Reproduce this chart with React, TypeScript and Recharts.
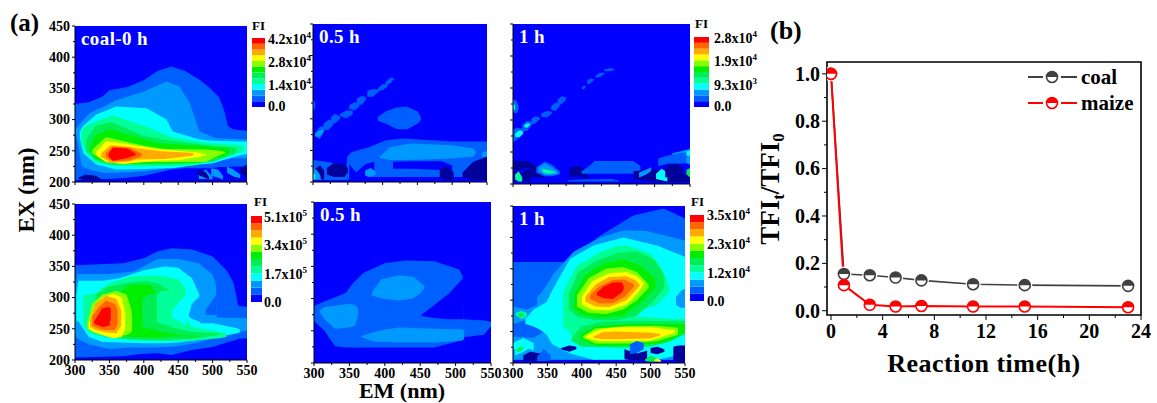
import React from 'react';
import { ComposedChart, BarChart, Bar, Area, Line, XAxis, YAxis, ReferenceArea } from 'recharts';

type Pt = [number, number, number];
type Contour = [number, Pt[]];

const D = 12;
const LEVEL_COLORS = ['#0000ff', '#0060ff', '#0099ff', '#00ffff', '#00ff99', '#00ee55', '#00ee00', '#88ff00', '#ffff00', '#ffaa00', '#ff6600', '#ff0000', '#00009a'];
const FULL: Contour = [0, [[300, 200, 450], [550, 200, 450]]];

const coal0: Contour[] = [
  FULL,
  [1, [[300, 203, 325], [320, 204, 328], [340, 205, 337], [350, 205, 347], [375, 207, 352], [400, 210, 363], [420, 215, 378], [440, 220, 385], [460, 222, 378], [481, 222, 364], [497, 222, 350], [510, 224, 335], [518, 224, 310], [522, 224, 290], [530, 225, 284], [550, 225, 282]]],
  [D, [[305, 205, 207], [315, 203, 212], [330, 203, 210], [338, 203, 205]]],
  [D, [[540, 215, 222], [550, 206, 228]]],
  [2, [[301, 280, 285], [310, 225, 297], [321, 220, 310], [340, 215, 320], [360, 215, 331], [400, 217, 345], [433, 222, 361], [452, 228, 353], [467, 232, 326], [481, 235, 281], [505, 238, 270], [550, 238, 268]]],
  [3, [[307, 270, 281], [312, 246, 290], [331, 228, 308], [360, 220, 321], [404, 221, 318], [433, 222, 300], [442, 222, 281], [481, 228, 268], [500, 230, 266], [540, 243, 265], [550, 245, 265]]],
  [4, [[309, 265, 281], [315, 248, 290], [330, 232, 297], [355, 226, 307], [400, 225, 290], [440, 226, 272], [470, 226, 266], [500, 234, 262], [530, 243, 260], [546, 250, 258]]],
  [5, [[316, 250, 268], [330, 235, 290], [352, 228, 296], [400, 228, 274], [440, 228, 266], [500, 232, 258], [527, 243, 256], [535, 248, 254]]],
  [6, [[322, 250, 257], [330, 237, 275], [350, 232, 285], [380, 229, 275], [420, 230, 262], [480, 231, 258], [520, 243, 254], [525, 248, 251]]],
  [7, [[325, 246, 252], [345, 232, 272], [360, 231, 268], [400, 232, 258], [430, 232, 253], [490, 232, 252], [510, 243, 250], [518, 246, 248]]],
  [8, [[331, 243, 248], [345, 232, 265], [370, 229, 262], [420, 234, 253], [450, 235, 250], [480, 240, 247], [491, 243, 244]]],
  [9, [[338, 240, 246], [352, 231, 259], [380, 233, 256], [390, 236, 254], [430, 237, 249], [470, 242, 247], [473, 244, 245]]],
  [10, [[345, 240, 247], [355, 233, 257], [380, 235, 255], [395, 240, 247], [397, 243, 245]]],
  [11, [[349, 240, 246], [355, 234, 255], [375, 238, 254], [388, 243, 246]]],
  [2, [[480, 205, 213], [490, 205, 220], [500, 204, 208]]],
  [D, [[478, 212, 220], [490, 206, 216], [495, 205, 208]]],
  [2, [[498, 210, 222], [508, 207, 220], [515, 204, 210]]],
  [D, [[525, 209, 222], [535, 206, 216], [540, 205, 208]]],
  [2, [[521, 215, 225], [530, 209, 220], [540, 206, 212]]],
];

const coalHalf: Contour[] = [
  FULL,
  [1, [[300, 312, 330], [303, 318, 326]]],
  [1, [[304, 272, 278], [310, 268, 288], [316, 280, 288]]],
  [2, [[303, 272, 277], [310, 272, 282], [315, 279, 283]]],
  [1, [[315, 283, 292], [322, 282, 298], [329, 290, 298]]],
  [1, [[326, 293, 303], [331, 292, 308], [339, 300, 304]]],
  [1, [[339, 304, 308], [348, 301, 313], [357, 307, 313]]],
  [1, [[352, 316, 322], [360, 313, 326], [367, 320, 324]]],
  [1, [[363, 325, 332], [370, 322, 336], [376, 330, 334]]],
  [1, [[378, 335, 344], [386, 335, 347], [395, 343, 346]]],
  [1, [[393, 344, 348], [400, 345, 355], [408, 352, 354]]],
  [1, [[404, 353, 358], [411, 356, 365], [416, 362, 364]]],
  [1, [[393, 297, 303], [405, 292, 312], [420, 284, 318], [435, 283, 319], [450, 292, 312], [455, 298, 303]]],
  [1, [[300, 203, 235], [320, 203, 232], [348, 203, 225], [349, 203, 240], [355, 205, 247], [380, 208, 255], [405, 208, 266], [430, 208, 269], [500, 208, 264], [550, 208, 264]]],
  [0, [[415, 221, 232], [440, 221, 233], [485, 219, 233], [500, 218, 226]]],
  [0, [[352, 203, 228], [362, 203, 215], [375, 205, 228], [388, 220, 232]]],
  [2, [[396, 238, 240], [410, 235, 255], [440, 235, 261], [500, 237, 258], [530, 240, 253], [534, 246, 248]]],
  [D, [[320, 212, 222], [330, 208, 230], [345, 208, 228], [350, 215, 222]]],
  [D, [[302, 205, 220], [310, 205, 226], [316, 203, 218]]],
  [D, [[482, 208, 218], [490, 203, 226], [502, 203, 216]]],
  [D, [[515, 208, 215], [530, 203, 232], [550, 203, 240]]],
  [2, [[300, 203, 222], [306, 204, 218], [311, 203, 210]]],
  [3, [[300, 203, 214], [303, 205, 212]]],
  [2, [[375, 210, 218], [383, 208, 222], [390, 212, 216]]],
  [2, [[543, 240, 246], [550, 240, 250]]],
];

const coalOne: Contour[] = [
  FULL,
  [1, [[300, 312, 333], [305, 310, 330], [308, 316, 322]]],
  [3, [[300, 318, 328], [303, 315, 322]]],
  [1, [[300, 265, 285], [306, 270, 288], [315, 278, 286]]],
  [3, [[303, 274, 279], [309, 273, 284], [314, 279, 282]]],
  [1, [[313, 283, 292], [320, 283, 299], [327, 293, 297]]],
  [3, [[316, 289, 292], [320, 288, 295], [324, 292, 294]]],
  [1, [[326, 293, 302], [331, 294, 306], [338, 301, 304]]],
  [1, [[340, 305, 310], [348, 304, 314], [355, 310, 313]]],
  [1, [[354, 316, 322], [360, 314, 327], [367, 323, 326]]],
  [1, [[363, 326, 332], [369, 325, 337], [375, 332, 335]]],
  [1, [[397, 349, 351], [400, 348, 353], [403, 352, 353]]],
  [1, [[405, 356, 362], [409, 357, 365], [414, 362, 364]]],
  [1, [[417, 366, 370], [423, 367, 374], [429, 372, 374]]],
  [1, [[429, 376, 379], [436, 376, 381], [443, 378, 380]]],
  [D, [[300, 221, 236], [320, 225, 236], [335, 225, 228]]],
  [D, [[315, 212, 222], [330, 210, 225], [345, 210, 218]]],
  [D, [[380, 210, 226], [395, 212, 228], [405, 205, 218]]],
  [1, [[333, 217, 226], [345, 212, 235], [355, 212, 230], [366, 215, 220]]],
  [2, [[336, 220, 226], [345, 214, 232], [355, 214, 226], [364, 216, 218]]],
  [4, [[342, 218, 224], [350, 216, 222], [360, 217, 219]]],
  [1, [[397, 216, 220], [410, 216, 230], [415, 216, 236], [470, 216, 236], [480, 222, 228]]],
  [1, [[378, 204, 206], [400, 204, 207], [440, 204, 208], [450, 204, 205]]],
  [D, [[302, 205, 222], [312, 204, 218], [325, 204, 214]]],
  [4, [[303, 207, 215], [308, 204, 220], [313, 204, 210]]],
  [D, [[470, 207, 220], [490, 205, 222], [510, 203, 222], [550, 203, 214]]],
  [2, [[478, 210, 218], [487, 214, 222], [495, 220, 226]]],
  [3, [[502, 208, 216], [510, 206, 224], [518, 204, 218]]],
  [D, [[515, 210, 228], [530, 215, 232], [540, 212, 226]]],
  [2, [[525, 238, 248], [540, 235, 252], [550, 230, 255]]],
  [3, [[542, 245, 250], [550, 244, 252]]],
  [1, [[505, 228, 240], [520, 232, 245], [545, 232, 250]]],
  [5, [[545, 215, 222], [550, 210, 225]]],
];

const maize0: Contour[] = [
  FULL,
  [1, [[300, 204, 352], [370, 206, 355], [400, 210, 363], [420, 211, 374], [440, 208, 379], [470, 216, 377], [500, 221, 366], [520, 228, 344], [530, 231, 325], [535, 233, 300], [537, 234, 287], [550, 235, 285]]],
  [2, [[300, 240, 304], [303, 235, 338], [320, 225, 338], [350, 218, 338], [385, 220, 342], [420, 220, 362], [450, 222, 362], [480, 228, 355], [500, 235, 337], [505, 238, 320], [506, 240, 268], [550, 247, 267]]],
  [1, [[490, 272, 280], [505, 272, 304], [506, 272, 318]]],
  [3, [[302, 262, 303], [305, 262, 327], [320, 237, 327], [340, 229, 327], [365, 228, 331], [400, 227, 344], [430, 227, 350], [450, 228, 348], [470, 231, 331], [481, 233, 304], [482, 234, 259], [500, 235, 259], [536, 243, 251], [540, 245, 248]]],
  [2, [[465, 270, 270], [470, 266, 290], [482, 261, 303]]],
  [4, [[312, 255, 304], [320, 245, 305], [330, 240, 307], [350, 235, 323], [380, 232, 334], [420, 230, 336], [450, 230, 330], [461, 231, 315], [462, 231, 266], [470, 231, 253], [510, 235, 245], [520, 237, 243]]],
  [3, [[435, 270, 270], [445, 266, 285], [462, 255, 305]]],
  [5, [[330, 245, 305], [350, 238, 318], [370, 234, 322], [400, 232, 327], [420, 232, 323], [440, 232, 310], [441, 233, 252], [470, 234, 245], [510, 240, 243]]],
  [4, [[415, 262, 300], [425, 258, 310], [441, 254, 312]]],
  [6, [[345, 245, 295], [360, 240, 305], [380, 237, 321], [410, 236, 320], [418, 236, 305], [419, 236, 246], [450, 238, 240], [480, 237, 238]]],
  [5, [[398, 252, 298], [408, 250, 305], [419, 248, 306]]],
  [7, [[318, 250, 260], [325, 245, 290], [340, 240, 305], [360, 238, 311], [375, 240, 305], [382, 245, 280], [383, 250, 262]]],
  [8, [[320, 250, 258], [328, 245, 285], [340, 240, 300], [355, 235, 306], [368, 237, 300], [373, 250, 275]]],
  [9, [[322, 253, 265], [330, 248, 290], [345, 244, 303], [360, 243, 298], [367, 255, 280]]],
  [10, [[325, 255, 270], [335, 250, 285], [345, 248, 295], [358, 248, 290], [362, 258, 280]]],
  [11, [[328, 258, 262], [340, 253, 283], [350, 255, 285], [352, 268, 282]]],
];

const maizeHalf: Contour[] = [
  FULL,
  [1, [[300, 265, 288], [315, 250, 296], [320, 241, 298], [330, 226, 302], [345, 224, 309], [355, 224, 324], [370, 224, 340], [400, 224, 355], [430, 224, 359], [470, 224, 358], [505, 234, 345], [510, 238, 335], [511, 240, 268], [540, 244, 266], [550, 257, 264]]],
  [0, [[452, 273, 275], [470, 270, 290], [490, 268, 307], [511, 268, 332]]],
  [2, [[308, 279, 281], [315, 268, 287], [330, 253, 289], [350, 255, 292], [358, 258, 290], [362, 272, 285]]],
  [2, [[382, 305, 310], [395, 300, 330], [420, 297, 336], [440, 300, 334], [450, 308, 325], [456, 316, 320]]],
  [2, [[367, 240, 242], [385, 233, 248], [400, 233, 252], [420, 232, 255], [470, 232, 253], [510, 235, 252], [512, 238, 250]]],
];

const maizeOne: Contour[] = [
  FULL,
  [1, [[300, 205, 361], [375, 205, 361], [398, 205, 379], [427, 205, 403], [475, 205, 435], [519, 205, 446], [550, 205, 430]]],
  [2, [[300, 205, 290], [320, 205, 285], [344, 205, 316], [359, 205, 342], [388, 205, 377], [427, 205, 400], [460, 205, 411], [494, 205, 410], [550, 205, 395]]],
  [1, [[300, 290, 320], [320, 285, 315], [335, 292, 310]]],
  [1, [[300, 242, 262], [330, 240, 272], [345, 250, 275]]],
  [3, [[330, 262, 285], [349, 245, 297], [357, 230, 316], [383, 215, 366], [417, 205, 387], [460, 205, 400], [509, 205, 387], [550, 215, 369]]],
  [3, [[318, 262, 270], [330, 258, 285], [345, 250, 290]]],
  [2, [[537, 292, 305], [544, 288, 315], [550, 288, 318]]],
  [4, [[304, 276, 280], [312, 270, 283], [320, 274, 280]]],
  [5, [[308, 274, 278], [312, 273, 280], [316, 275, 278]]],
  [3, [[300, 222, 232], [315, 225, 240], [330, 220, 232]]],
  [4, [[373, 255, 313], [378, 255, 325], [393, 233, 355], [427, 228, 377], [451, 223, 386], [465, 223, 387], [499, 228, 375], [512, 232, 358], [523, 236, 335], [528, 238, 315], [529, 238, 270], [550, 245, 270]]],
  [3, [[475, 274, 280], [509, 272, 292], [529, 270, 315]]],
  [5, [[385, 235, 240], [400, 226, 258], [430, 225, 266], [500, 226, 267], [530, 235, 267], [550, 246, 267]]],
  [6, [[398, 238, 245], [420, 228, 258], [470, 228, 262], [520, 232, 262], [550, 248, 262]]],
  [7, [[402, 240, 243], [420, 231, 255], [470, 231, 259], [510, 235, 259], [540, 245, 256]]],
  [8, [[406, 240, 243], [425, 235, 253], [450, 235, 257], [500, 236, 257], [535, 248, 252]]],
  [9, [[417, 240, 242], [430, 238, 249], [450, 238, 250], [500, 239, 248], [514, 244, 246]]],
  [5, [[381, 285, 310], [395, 273, 345], [420, 268, 362], [450, 268, 375], [480, 275, 378], [505, 300, 365], [520, 320, 340]]],
  [6, [[389, 285, 310], [405, 275, 340], [430, 272, 358], [460, 275, 365], [485, 295, 355], [507, 320, 335]]],
  [7, [[393, 290, 308], [410, 280, 335], [435, 278, 350], [460, 285, 353], [480, 300, 345], [497, 320, 325]]],
  [8, [[400, 293, 305], [415, 285, 330], [440, 284, 343], [465, 293, 345], [480, 310, 338], [490, 325, 328]]],
  [9, [[405, 298, 305], [420, 290, 325], [440, 289, 337], [465, 300, 338], [478, 315, 332], [484, 323, 325]]],
  [10, [[412, 302, 308], [425, 295, 322], [445, 295, 332], [462, 305, 333], [476, 322, 325]]],
  [11, [[422, 308, 312], [432, 303, 322], [445, 302, 328], [458, 312, 328], [461, 318, 322]]],
  [D, [[315, 204, 212], [325, 203, 218], [340, 204, 215]]],
  [D, [[370, 222, 224], [382, 218, 228], [392, 222, 226]]],
  [1, [[335, 203, 210], [345, 203, 222], [355, 204, 212]]],
  [D, [[462, 206, 222], [480, 203, 215], [495, 205, 220]]],
  [D, [[533, 204, 226], [540, 202, 228], [550, 202, 228]]],
  [D, [[500, 216, 224], [510, 214, 226], [520, 218, 222]]],
  [3, [[303, 212, 222], [312, 216, 232], [322, 222, 228]]],
  [5, [[305, 218, 222], [310, 218, 226], [315, 222, 226]]],
  [5, [[492, 203, 206], [500, 202, 212], [508, 202, 208]]],
  [8, [[505, 203, 205], [510, 202, 207], [515, 202, 204]]],
  [1, [[470, 214, 230], [480, 216, 235], [490, 222, 232]]],
];

const majorEm = [300, 350, 400, 450, 500, 550];
const emTicks = [300, 325, 350, 375, 400, 425, 450, 475, 500, 525, 550];
const exTicks = [200, 225, 250, 275, 300, 325, 350, 375, 400, 425, 450];
const majorEx = [200, 250, 300, 350, 400, 450];

const hours = [0, 1, 3, 5, 7, 11, 15, 23];
const coalRatio = [1.0, 0.155, 0.15, 0.14, 0.128, 0.112, 0.108, 0.105];
const maizeRatio = [1.0, 0.108, 0.025, 0.018, 0.02, 0.018, 0.018, 0.015];
const hourTicks = [0, 2, 4, 6, 8, 10, 12, 14, 16, 18, 20, 22, 24];
const ratioTicks = [0, 0.1, 0.2, 0.3, 0.4, 0.5, 0.6, 0.7, 0.8, 0.9, 1.0];
const ratioTable = hours.map((h, i) => ({ h, coal: coalRatio[i], maize: maizeRatio[i] }));
const barLevels = [{ n: 'fi', l0: 1, l1: 1, l2: 1, l3: 1, l4: 1, l5: 1, l6: 1, l7: 1, l8: 1, l9: 1, l10: 1, l11: 1 }];

const FONT = '"Liberation Serif", "Times New Roman", serif';

function mkXTick(major: number[], showLabel: boolean, len: number, minor: number, size: number, dy: number) {
  return (p: any) => {
    const v = p.payload.value;
    const isM = major.includes(v);
    return (
      <g>
        <line x1={p.x} x2={p.x} y1={p.y} y2={p.y + (isM ? len : minor)} stroke="#000" strokeWidth={1} />
        {isM && showLabel ? (
          <text x={p.x} y={p.y + dy} textAnchor="middle" fontFamily={FONT} fontWeight="bold" fontSize={size} fill="#000">{v}</text>
        ) : null}
      </g>
    );
  };
}
function mkYTick(major: number[], showLabel: boolean, len: number, minor: number, size: number, dx: number, fmt: (v: number) => string) {
  return (p: any) => {
    const v = p.payload.value;
    const isM = major.some((m) => Math.abs(m - v) < 1e-6);
    return (
      <g>
        <line x1={p.x} x2={p.x - (isM ? len : minor)} y1={p.y} y2={p.y} stroke="#000" strokeWidth={1} />
        {isM && showLabel ? (
          <text x={p.x - dx} y={p.y + size * 0.34} textAnchor="end" fontFamily={FONT} fontWeight="bold" fontSize={size} fill="#000">{fmt(v)}</text>
        ) : null}
      </g>
    );
  };
}

function Panel({ x, y, w, h, contours, xLabels, yLabels, title }: { x: number; y: number; w: number; h: number; contours: Contour[]; xLabels: boolean; yLabels: boolean; title: string }) {
  const L = 34, R = 14, T = 8, B = 26;
  return (
    <div style={{ position: 'absolute', left: x - L, top: y - T, width: w + L + R, height: h + T + B }}>
      <ComposedChart width={w + L + R} height={h + T + B} margin={{ left: 0, right: R, top: T, bottom: 0 }}>
        <XAxis dataKey="em" type="number" domain={[300, 550]} ticks={emTicks} interval={0} height={B} tickSize={0} tickMargin={0} tickLine={false} stroke="#000" tick={mkXTick(majorEm, xLabels, 3, 2, 14, 15)} allowDataOverflow />
        <YAxis type="number" domain={[200, 450]} ticks={exTicks} interval={0} width={L} tickSize={0} tickMargin={0} tickLine={false} stroke="#000" tick={mkYTick(majorEx, yLabels, 3, 2, 14, 5, (v) => String(v))} allowDataOverflow />
        {contours.map(([lv, pts], i) => (
          <Area key={i} data={pts.map(([em, lo, hi]) => ({ em, r: [lo, hi] }))} dataKey="r" type="linear" fill={LEVEL_COLORS[lv]} fillOpacity={1} stroke="none" dot={false} activeDot={false} isAnimationActive={false} connectNulls />
        ))}
      </ComposedChart>
      <div style={{ position: 'absolute', left: L + 6, top: T + 2, color: '#fff', fontFamily: FONT, fontWeight: 'bold', fontSize: 19, letterSpacing: 0.4, whiteSpace: 'nowrap' }}>{title}</div>
    </div>
  );
}

function ColorBar({ x, y, w, h, lx, labels, fiX, fiY }: { x: number; y: number; w: number; h: number; lx: number; labels: [string, string, number][]; fiX: number; fiY: number }) {
  return (
    <>
      <div style={{ position: 'absolute', left: x, top: y }}>
        <BarChart width={w} height={h} data={barLevels} margin={{ left: 0, right: 0, top: 0, bottom: 0 }} barCategoryGap={0}>
          <XAxis dataKey="n" hide />
          <YAxis hide type="number" domain={[0, 12]} />
          {LEVEL_COLORS.slice(0, 12).map((c, i) => (
            <Bar key={i} dataKey={`l${i}`} stackId="a" fill={c} isAnimationActive={false} />
          ))}
        </BarChart>
      </div>
      <div style={{ position: 'absolute', left: fiX, top: fiY - 8, fontFamily: FONT, fontWeight: 'bold', fontSize: 13, lineHeight: '14px' }}>FI</div>
      {labels.map(([m, e, ly], i) => (
        <div key={i} style={{ position: 'absolute', left: lx, top: ly - 8, fontFamily: FONT, fontWeight: 'bold', fontSize: 14, lineHeight: '16px', whiteSpace: 'nowrap' }}>
          {m}
          {e ? <span style={{ fontSize: 9, position: 'relative', top: -6 }}>{e}</span> : null}
        </div>
      ))}
    </>
  );
}

function halfDot(color: string, ring: boolean) {
  return (p: any) => {
    const { cx, cy } = p;
    const r = 5.5;
    return (
      <g key={`${color}-${p.index}`}>
        {ring ? <circle cx={cx} cy={cy} r={7.5} fill="#fff" /> : null}
        <circle cx={cx} cy={cy} r={r} fill="#fff" stroke={color} strokeWidth={1.6} />
        <path d={`M${cx - r} ${cy} A${r} ${r} 0 0 1 ${cx + r} ${cy} Z`} fill={color} />
      </g>
    );
  };
}

function LegendRow({ y, color, label }: { y: number; color: string; label: string }) {
  const cx = 1052;
  const r = 5.5;
  return (
    <g>
      <line x1={1028} x2={1043} y1={y} y2={y} stroke={color} strokeWidth={2} />
      <line x1={1061} x2={1077} y1={y} y2={y} stroke={color} strokeWidth={2} />
      <circle cx={cx} cy={y} r={r} fill="#fff" stroke={color} strokeWidth={1.6} />
      <path d={`M${cx - r} ${y} A${r} ${r} 0 0 1 ${cx + r} ${y} Z`} fill={color} />
      <text x={1081} y={y + 7} fontFamily={FONT} fontWeight="bold" fontSize={21} fill="#000">{label}</text>
    </g>
  );
}

export default function App() {
  const C = { L: 46, R: 20, T: 8, B: 40 };
  return (
    <div style={{ position: 'absolute', left: 0, top: 0, width: 1157, height: 403, background: '#fff', overflow: 'hidden' }}>
      <Panel x={75} y={26} w={172} h={156} contours={coal0} xLabels={false} yLabels title="coal-0 h" />
      <Panel x={313} y={24} w={174} h={158} contours={coalHalf} xLabels={false} yLabels={false} title="0.5 h" />
      <Panel x={513} y={24} w={177} h={160} contours={coalOne} xLabels={false} yLabels={false} title="1 h" />
      <Panel x={75} y={204} w={172} h={156} contours={maize0} xLabels yLabels title="" />
      <Panel x={314} y={202} w={177} h={161} contours={maizeHalf} xLabels yLabels={false} title="0.5 h" />
      <Panel x={513} y={206} w={172} h={157} contours={maizeOne} xLabels yLabels={false} title="1 h" />

      <ColorBar x={252} y={38} w={13} h={69} lx={268} fiX={252} fiY={27} labels={[['4.2x10', '4', 40], ['2.8x10', '4', 63], ['1.4x10', '4', 86], ['0.0', '', 107]]} />
      <ColorBar x={694} y={37} w={15} h={70} lx={714} fiX={695} fiY={25} labels={[['2.8x10', '4', 39], ['1.9x10', '4', 62], ['9.3x10', '3', 86], ['0.0', '', 107]]} />
      <ColorBar x={251} y={216} w={11} h={86} lx={264} fiX={254} fiY={203} labels={[['5.1x10', '5', 218], ['3.4x10', '5', 246], ['1.7x10', '5', 275], ['0.0', '', 303]]} />
      <ColorBar x={690} y={215} w={14} h={86} lx={707} fiX={691} fiY={203} labels={[['3.5x10', '4', 216], ['2.3x10', '4', 245], ['1.2x10', '4', 274], ['0.0', '', 302]]} />

      <div style={{ position: 'absolute', left: 827 - C.L, top: 62 - C.T }}>
        <ComposedChart width={314 + C.L + C.R} height={253 + C.T + C.B} data={ratioTable} margin={{ left: 0, right: C.R, top: C.T, bottom: 0 }}>
          <XAxis dataKey="h" type="number" domain={[-0.31, 24]} ticks={hourTicks} interval={0} height={C.B} tickSize={0} tickMargin={0} tickLine={false} axisLine={false} tick={mkXTick([0, 4, 8, 12, 16, 20, 24], true, 5, 3, 20, 23)} allowDataOverflow />
          <YAxis type="number" domain={[-0.018, 1.05]} ticks={ratioTicks} interval={0} width={C.L} tickSize={0} tickMargin={0} tickLine={false} axisLine={false} tick={mkYTick([0, 0.2, 0.4, 0.6, 0.8, 1.0], true, 5, 3, 20, 7, (v) => v.toFixed(1))} allowDataOverflow />
          <ReferenceArea x1={-0.31} x2={24} y1={-0.018} y2={1.05} fill="none" stroke="#000" strokeWidth={1.6} />
          <Line dataKey="coal" stroke="#404040" strokeWidth={1.6} dot={halfDot('#404040', true)} activeDot={false} isAnimationActive={false} />
          <Line dataKey="maize" stroke="#ff0000" strokeWidth={2} dot={halfDot('#ff0000', false)} activeDot={false} isAnimationActive={false} />
        </ComposedChart>
      </div>

      <svg width={1157} height={403} style={{ position: 'absolute', left: 0, top: 0, pointerEvents: 'none' }}>
        <LegendRow y={77} color="#404040" label="coal" />
        <LegendRow y={103} color="#ff0000" label="maize" />
        <g fontFamily={FONT} fontWeight="bold" fill="#000">
          <text x={10} y={31} fontSize={25}>(a)</text>
          <text x={770} y={39} fontSize={26}>(b)</text>
          <text x={402} y={398} fontSize={22} textAnchor="middle">EM (nm)</text>
          <text transform="translate(34,190) rotate(-90)" fontSize={23} textAnchor="middle">EX (nm)</text>
          <text x={984} y={372} fontSize={26} letterSpacing={0.5} textAnchor="middle">Reaction time(h)</text>
          <text transform="translate(779,189) rotate(-90)" fontSize={27} textAnchor="middle">
            TFI<tspan fontSize={17} dy={5}>t</tspan><tspan dy={-5}>/TFI</tspan><tspan fontSize={17} dy={5}>0</tspan>
          </text>
        </g>
      </svg>
    </div>
  );
}
